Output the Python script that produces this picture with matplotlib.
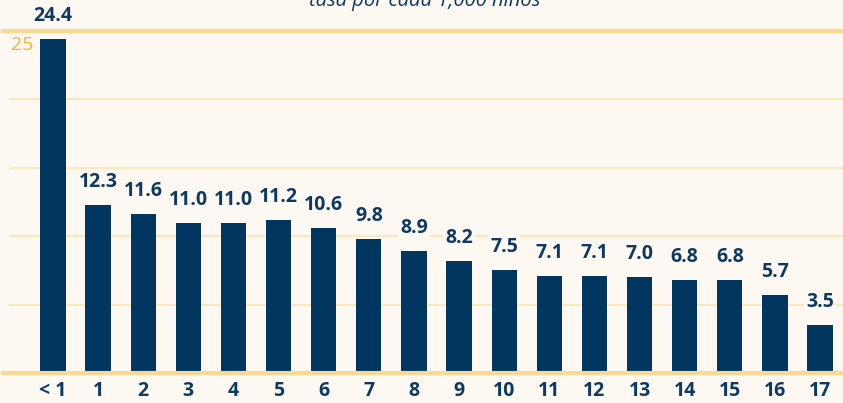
import matplotlib
matplotlib.use("Agg")
import matplotlib.pyplot as plt

edades = ["< 1", "1", "2", "3", "4", "5", "6", "7", "8", "9",
          "10", "11", "12", "13", "14", "15", "16", "17"]
tasas = [24.4, 12.3, 11.6, 11.0, 11.0, 11.2, 10.6, 9.8, 8.9, 8.2,
         7.5, 7.1, 7.1, 7.0, 6.8, 6.8, 5.7, 3.5]
marcas_y = [5, 10, 15, 20]
subtitulo = "tasa por cada 1,000 niños"

fondo = "#fdf8f1"
azul = "#00365f"
texto_azul = "#0e3a62"
linea = "#fbe3b3"
linea_fuerte = "#fdd891"
naranja = "#f5b335"

plt.rcParams['font.family'] = ['Open Sans', 'DejaVu Sans']

fig = plt.figure(figsize=(8.43, 4.03), dpi=100, facecolor=fondo)
ax = fig.add_axes([0, 30 / 403, 1, 373 / 403])
ax.set_facecolor(fondo)

x = list(range(len(edades)))
ax.bar(x, tasas, width=0.56, color=azul, zorder=3)

ax.set_xlim(-53 / 45.12, (843 - 53) / 45.12)
ax.set_ylim(0, 373 / 13.68)

x0 = 10 / 843
for v in marcas_y:
    ax.axhline(v, xmin=x0, color=linea, lw=1.2, zorder=1)
ax.axhline(25, xmin=3 / 843, color=linea_fuerte, lw=3, zorder=1)
ax.axhline(0, xmin=3 / 843, color=linea_fuerte, lw=3, zorder=4, clip_on=False)
ax.text(-0.93, 23.95, "25", color=naranja, fontsize=14, va="center", ha="left")

for xi, v in zip(x, tasas):
    ax.text(xi, v + 0.95, f"{v:.1f}", ha="center", va="bottom", fontsize=14,
            fontweight="bold", color=texto_azul, zorder=5,
            bbox=dict(facecolor=fondo, edgecolor="none", pad=1.5))

ax.set_xticks(x)
ax.set_xticklabels(edades, fontsize=14, fontweight="bold", color=texto_azul)
ax.tick_params(axis="x", length=0, pad=6)
ax.set_yticks([])
for s in ax.spines.values():
    s.set_visible(False)

fig.text(425 / 843, 1 - 6 / 403, subtitulo, ha="center", va="baseline",
         fontsize=14.5, style="italic", color=texto_azul)

fig.savefig("out.png", dpi=100, facecolor=fondo)
